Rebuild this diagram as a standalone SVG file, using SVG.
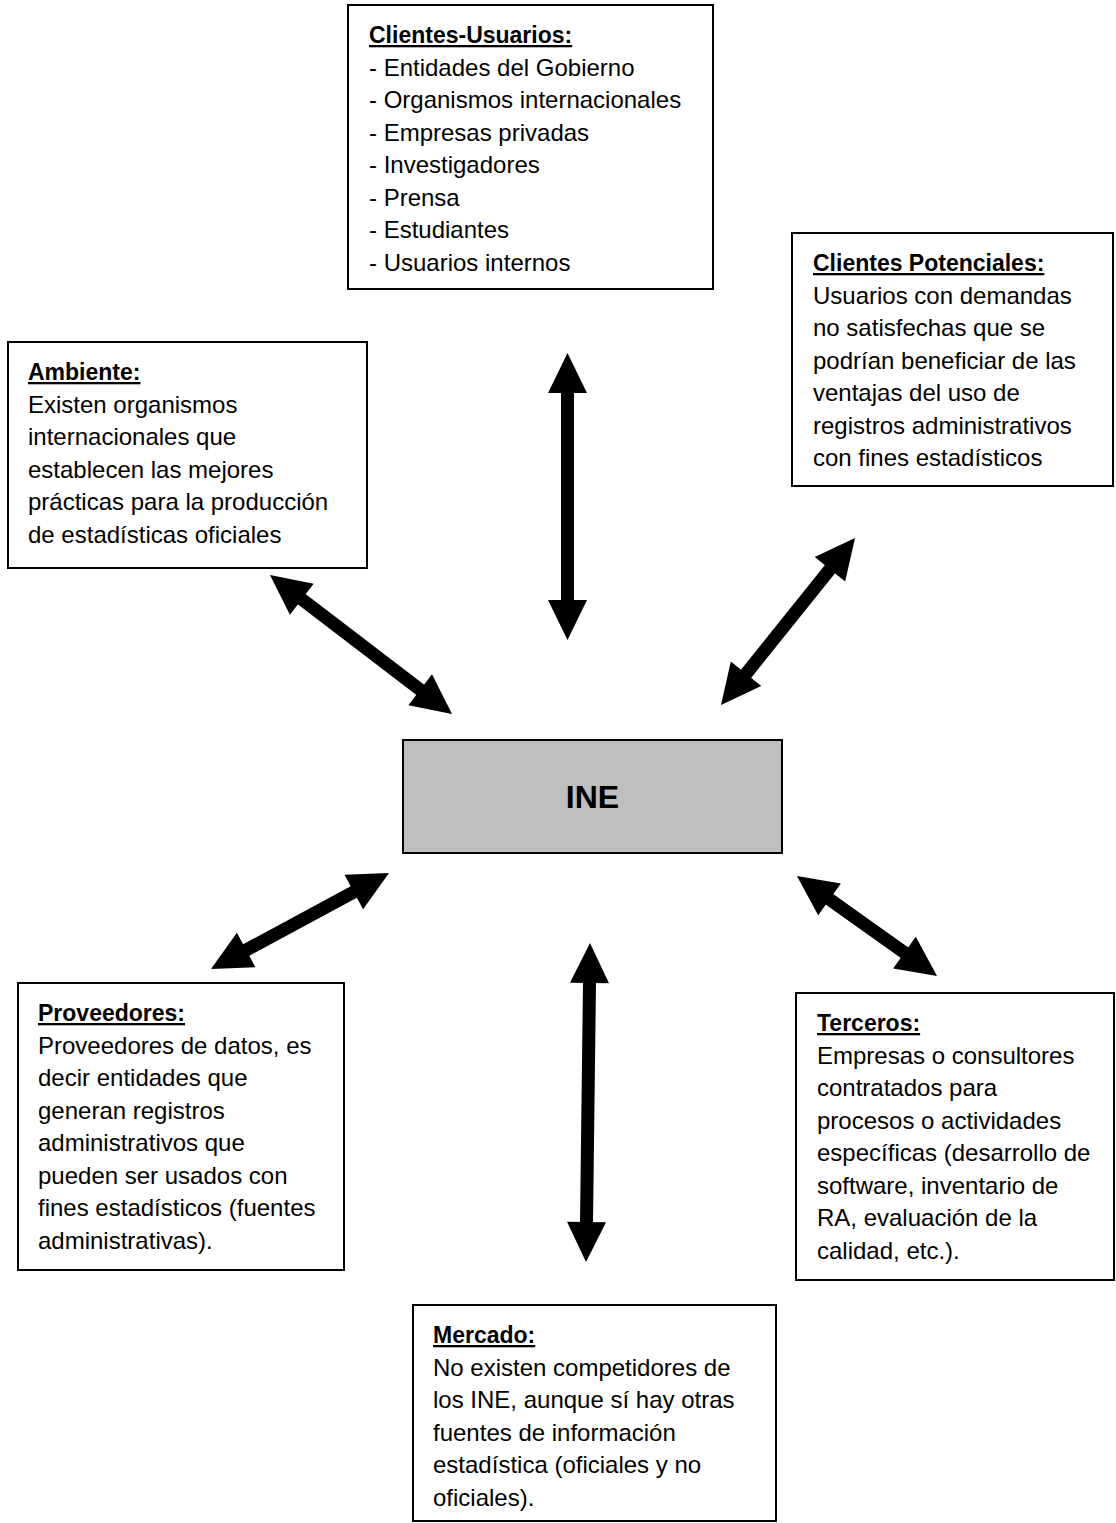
<svg xmlns="http://www.w3.org/2000/svg" width="1116" height="1523" viewBox="0 0 1116 1523">
<style>
.box{fill:#ffffff;stroke:#000000;stroke-width:2}
.core{fill:#bfbfbf;stroke:#000000;stroke-width:2}
text{font-family:"Liberation Sans",Arial,sans-serif;font-size:24px;fill:#000000}
.h{font-weight:bold;font-size:23px;text-decoration:underline}
.ine{font-weight:bold;font-size:32px}
.conn line{stroke:#000000;stroke-width:13;fill:none;marker-start:url(#head);marker-end:url(#head)}
</style>
<defs>
<marker id="head" markerUnits="userSpaceOnUse" markerWidth="42" markerHeight="40" viewBox="0 -20 42 40" refX="1" refY="0" orient="auto-start-reverse" overflow="visible">
<path d="M0,-19.5 L40,0 L0,19.5 z" fill="#000000"/>
</marker>
</defs>
<rect width="1116" height="1523" fill="#ffffff"/>
<g id="connectors" class="conn">
<line x1="567.5" y1="392" x2="567.5" y2="601"/>
<line x1="301" y1="598.7" x2="421" y2="690.3"/>
<line x1="830.6" y1="568.4" x2="745.4" y2="674.6"/>
<line x1="354.7" y1="891.5" x2="245.3" y2="950.5"/>
<line x1="828.7" y1="898.7" x2="905.3" y2="953.3"/>
<line x1="589.5" y1="982" x2="586.5" y2="1223"/>
</g>
<g id="clientes-usuarios">
<rect class="box" x="348" y="5" width="365" height="284"/>
<text class="h" x="369" y="43">Clientes-Usuarios:</text>
<text x="369" y="75.5">- Entidades del Gobierno</text>
<text x="369" y="108">- Organismos internacionales</text>
<text x="369" y="140.5">- Empresas privadas</text>
<text x="369" y="173">- Investigadores</text>
<text x="369" y="205.5">- Prensa</text>
<text x="369" y="238">- Estudiantes</text>
<text x="369" y="270.5">- Usuarios internos</text>
</g>
<g id="ambiente">
<rect class="box" x="8" y="342" width="359" height="226"/>
<text class="h" x="28" y="380">Ambiente:</text>
<text x="28" y="412.5">Existen organismos</text>
<text x="28" y="445">internacionales que</text>
<text x="28" y="477.5">establecen las mejores</text>
<text x="28" y="510">prácticas para la producción</text>
<text x="28" y="542.5">de estadísticas oficiales</text>
</g>
<g id="clientes-potenciales">
<rect class="box" x="792" y="233" width="321" height="253"/>
<text class="h" x="813" y="271">Clientes Potenciales:</text>
<text x="813" y="303.5">Usuarios con demandas</text>
<text x="813" y="336">no satisfechas que se</text>
<text x="813" y="368.5">podrían beneficiar de las</text>
<text x="813" y="401">ventajas del uso de</text>
<text x="813" y="433.5">registros administrativos</text>
<text x="813" y="466">con fines estadísticos</text>
</g>
<g id="ine">
<rect class="core" x="403" y="740" width="379" height="113"/>
<text class="ine" x="592.5" y="808" text-anchor="middle">INE</text>
</g>
<g id="proveedores">
<rect class="box" x="18" y="983" width="326" height="287"/>
<text class="h" x="38" y="1021">Proveedores:</text>
<text x="38" y="1053.5">Proveedores de datos, es</text>
<text x="38" y="1086">decir entidades que</text>
<text x="38" y="1118.5">generan registros</text>
<text x="38" y="1151">administrativos que</text>
<text x="38" y="1183.5">pueden ser usados con</text>
<text x="38" y="1216">fines estadísticos (fuentes</text>
<text x="38" y="1248.5">administrativas).</text>
</g>
<g id="terceros">
<rect class="box" x="796" y="993" width="318" height="287"/>
<text class="h" x="817" y="1031">Terceros:</text>
<text x="817" y="1063.5">Empresas o consultores</text>
<text x="817" y="1096">contratados para</text>
<text x="817" y="1128.5">procesos o actividades</text>
<text x="817" y="1161">específicas (desarrollo de</text>
<text x="817" y="1193.5">software, inventario de</text>
<text x="817" y="1226">RA, evaluación de la</text>
<text x="817" y="1258.5">calidad, etc.).</text>
</g>
<g id="mercado">
<rect class="box" x="413" y="1305" width="363" height="216"/>
<text class="h" x="433" y="1343">Mercado:</text>
<text x="433" y="1375.5">No existen competidores de</text>
<text x="433" y="1408">los INE, aunque sí hay otras</text>
<text x="433" y="1440.5">fuentes de información</text>
<text x="433" y="1473">estadística (oficiales y no</text>
<text x="433" y="1505.5">oficiales).</text>
</g>
</svg>
